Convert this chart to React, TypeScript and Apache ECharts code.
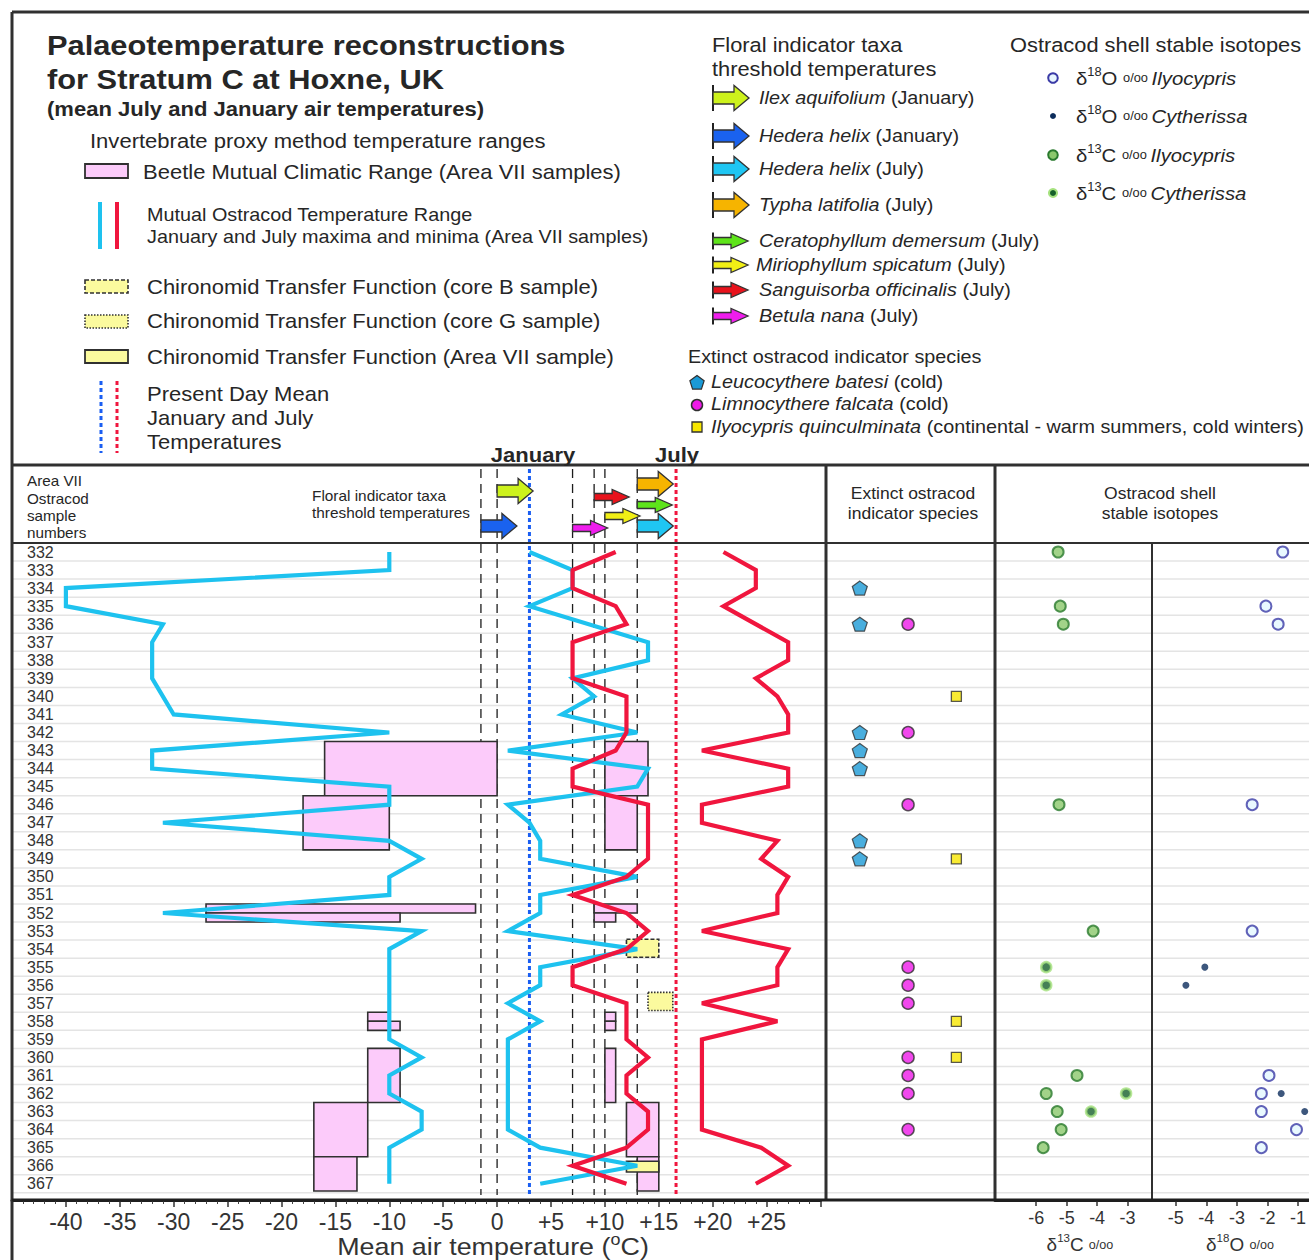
import React, { useEffect, useRef } from 'react';
import * as echarts from 'echarts';

const FONT = "'Liberation Sans', Arial, Helvetica, sans-serif";
const INK = '#262626';
const FRAME = '#303030';
const CYAN = '#1ec2ef';
const RED = '#f0163e';
const PINK = '#fccbfa';
const YELLOW = '#fbfa9e';

// Area VII ostracod sample numbers, top of the section first
const sampleNumbers = [
  332, 333, 334, 335, 336, 337, 338, 339, 340, 341, 342, 343, 344, 345, 346, 347, 348, 349,
  350, 351, 352, 353, 354, 355, 356, 357, 358, 359, 360, 361, 362, 363, 364, 365, 366, 367,
];

// Mutual Ostracod Temperature Range outlines: [sample, °C]
const janMinima = [
  [332, -10], [333, -10], [334, -40], [335, -40], [336, -31], [337, -32], [339, -32], [341, -30],
  [342, -10], [343, -32], [344, -32], [345, -10], [346, -10], [347, -31], [348, -10], [349, -7],
  [350, -10], [351, -10], [352, -31], [353, -7], [354, -10], [359, -10], [360, -7], [361, -10],
  [362, -10], [363, -7], [364, -7], [365, -10], [367, -10],
];
const janMaxima = [
  [332, 3], [333, 7], [334, 7], [335, 3], [337, 14], [338, 14], [339, 7], [340, 9], [341, 6],
  [342, 13], [343, 1], [344, 14], [345, 13], [346, 1], [347, 3], [348, 4], [349, 4], [350, 13],
  [351, 4], [352, 4], [353, 1], [354, 13], [355, 4], [356, 4], [357, 1], [358, 4], [359, 1],
  [364, 1], [365, 4], [366, 13], [367, 4],
];
const julMinima = [
  [332, 11], [333, 7], [334, 7], [335, 11], [336, 12], [337, 7], [339, 7], [340, 12], [342, 12],
  [343, 11], [344, 7], [345, 7], [346, 14], [349, 14], [350, 12], [351, 7], [352, 12], [353, 14],
  [354, 12], [355, 7], [356, 7], [357, 12], [359, 12], [360, 14], [361, 12], [362, 12], [363, 14],
  [364, 14], [365, 12], [366, 7], [367, 12],
];
const julMaxima = [
  [332, 21], [333, 24], [334, 24], [335, 21], [337, 27], [338, 27], [339, 24], [340, 26], [341, 27],
  [342, 27], [343, 19], [344, 27], [345, 27], [346, 19], [347, 19], [348, 26], [349, 24.5], [350, 27],
  [351, 26], [352, 26], [353, 19], [354, 27], [355, 26], [356, 26], [357, 19], [358, 26], [359, 19],
  [364, 19], [365, 24.5], [366, 27], [367, 24],
];

// Beetle MCR boxes: [upper edge, lower edge (sample units), min °C, max °C]
const beetleJanuary = [
  [342.5, 345.5, -16, 0], [345.5, 348.5, -18, -10], [351.5, 352, -27, -2], [352, 352.5, -27, -9],
  [357.5, 358, -12, -10], [358, 358.5, -12, -9], [359.5, 362.5, -12, -9], [362.5, 365.5, -17, -12],
  [365.5, 367.4, -17, -13],
];
const beetleJuly = [
  [342.5, 345.5, 10, 14], [345.5, 348.5, 10, 13], [351.5, 352, 9, 13], [352, 352.5, 9, 11],
  [357.5, 358, 10, 11], [358, 358.5, 10, 11], [359.5, 362.5, 10, 11], [362.5, 365.5, 12, 15],
  [365.5, 367.4, 13, 15],
];

// Chironomid transfer function (July) estimates, same layout
const chironomidCoreB = [[353.45, 354.45, 12, 15]];
const chironomidCoreG = [[356.4, 357.4, 14, 16.3]];
const chironomidAreaVII = [[365.75, 366.35, 12, 15]];

// Present day mean air temperatures, °C
const presentJanuary = 3;
const presentJuly = 16.6;

// Floral indicator taxa and their threshold temperatures, °C
const floralNames = [
  'Ilex aquifolium', 'Hedera helix', 'Hedera helix', 'Typha latifolia',
  'Ceratophyllum demersum', 'Miriophyllum spicatum', 'Sanguisorba officinalis', 'Betula nana',
];
const floralMonths = ['January', 'January', 'July', 'July', 'July', 'July', 'July', 'July'];
const floralThresholds = [0, -1.5, 13, 13, 13, 10, 9, 7];
const floralColors = ['#cdf21c', '#1a62ef', '#1fc6f3', '#f6b400', '#5ee41a', '#f1ef15', '#e8131c', '#ef1ded'];

// arrow placement inside the header band (px below its top) and arrow size
const floralLane = [26, 61, 61, 19, 40, 51, 32, 63];
const floralBig = [true, true, true, true, false, false, false, false];
const floralLegendY = [98, 136, 169, 205, 241, 265, 290, 316];

// Extinct ostracod indicator species: samples where each occurs
const batesiSamples = [334, 336, 342, 343, 344, 348, 349];
const falcataSamples = [336, 342, 346, 355, 356, 357, 360, 361, 362, 364];
const quinculminataSamples = [340, 349, 358, 360];

// Ostracod shell stable isotopes: [sample, ‰]
const d18oIlyocypris = [
  [332, -1.5], [335, -2.05], [336, -1.65], [346, -2.5], [353, -2.5], [361, -1.95],
  [362, -2.2], [363, -2.2], [364, -1.05], [365, -2.2],
];
const d18oCytherissa = [[355, -4.05], [356, -4.67], [362, -1.55], [363, -0.78]];
const d13cIlyocypris = [
  [332, -5.28], [335, -5.21], [336, -5.11], [346, -5.25], [353, -4.13], [361, -4.66],
  [362, -5.67], [363, -5.31], [364, -5.18], [365, -5.77],
];
const d13cCytherissa = [[355, -5.67], [356, -5.67], [362, -3.05], [363, -4.2]];

const d13cTicks = [-6, -5, -4, -3];
const d18oTicks = [-5, -4, -3, -2, -1];

// shared vertical extent of all panels (sample units, header band included)
const Y_MIN = 327.18;
const Y_MAX = 367.9;

const PENTAGON = 'path://M0,-10L9.51,-3.09L5.88,8.09L-5.88,8.09L-9.51,-3.09Z';

function arrowPoints(x: number, y: number, big: boolean) {
  const len = big ? 36 : 35;
  const body = big ? 21 : 18;
  const bh = big ? 6 : 3.5;
  const hh = big ? 12.5 : 7.5;
  return [
    [x, y - bh], [x + body, y - bh], [x + body, y - hh], [x + len, y],
    [x + body, y + hh], [x + body, y + bh], [x, y + bh],
  ];
}

function rs(size: number, extra: any = {}) {
  return { fontFamily: FONT, fontSize: size, fontWeight: 'normal', fontStyle: 'normal', fill: INK, ...extra };
}

// text element; the typeface is set slightly wide, as in the printed figure
function txt(x: number, y: number, text: string, o: any = {}) {
  return {
    type: 'text',
    x,
    y,
    scaleX: o.sx ?? 1.1,
    z: 60,
    silent: true,
    style: {
      text,
      fontFamily: FONT,
      fontSize: o.size ?? 18,
      fontWeight: o.weight ?? 'normal',
      fontStyle: o.italic ? 'italic' : 'normal',
      fill: o.color ?? INK,
      align: o.align ?? 'left',
      verticalAlign: 'middle',
      rich: o.rich,
    },
  };
}

function seg(x1: number, y1: number, x2: number, y2: number, stroke: string, lineWidth: number, lineDash?: number[]) {
  return {
    type: 'line',
    z: 50,
    silent: true,
    shape: { x1, y1, x2, y2 },
    style: { stroke, lineWidth, lineDash },
  };
}

function box(x: number, y: number, w: number, h: number, fill: string, lineDash?: number[], lw = 1.8) {
  return {
    type: 'rect',
    z: 50,
    silent: true,
    shape: { x, y, width: w, height: h },
    style: { fill, stroke: FRAME, lineWidth: lw, lineDash },
  };
}

function pentagonPts(cx: number, cy: number, r: number) {
  const pts: number[][] = [];
  for (let k = 0; k < 5; k++) {
    const a = -Math.PI / 2 + (k * 2 * Math.PI) / 5;
    pts.push([cx + r * Math.cos(a), cy + r * Math.sin(a)]);
  }
  return pts;
}

function rangeBoxes(data: number[][], fill: string, lineDash: number[] | undefined, z: number) {
  return {
    type: 'custom',
    xAxisIndex: 0,
    yAxisIndex: 0,
    silent: true,
    z,
    data,
    encode: { x: [2, 3], y: [0, 1] },
    renderItem: (params: any, api: any) => {
      const p0 = api.coord([api.value(2), api.value(0)]);
      const p1 = api.coord([api.value(3), api.value(1)]);
      return {
        type: 'rect',
        shape: { x: p0[0], y: p0[1], width: p1[0] - p0[0], height: p1[1] - p0[1] },
        style: { fill, stroke: FRAME, lineWidth: 1.6, lineDash },
      };
    },
  };
}

function verticalRule(values: number[], stroke: string, lineWidth: number, lineDash: number[], z: number) {
  return {
    type: 'custom',
    xAxisIndex: 0,
    yAxisIndex: 0,
    silent: true,
    z,
    data: values.map((v) => [v, 340]),
    renderItem: (params: any, api: any) => {
      const x = api.coord([api.value(0), 340])[0];
      const cs = params.coordSys;
      return {
        type: 'line',
        shape: { x1: x, y1: cs.y + 4, x2: x, y2: cs.y + cs.height - 5 },
        style: { stroke, lineWidth, lineDash },
      };
    },
  };
}

function ostracodLine(data: number[][], color: string) {
  return {
    type: 'line',
    xAxisIndex: 0,
    yAxisIndex: 0,
    silent: true,
    z: 6,
    symbol: 'none',
    data: data.map(([s, t]) => [t, s]),
    lineStyle: { color, width: 4.2, join: 'miter' },
  };
}

function buildOption() {
  const isoRich = {
    d: rs(19, { lineHeight: 24 }),
    s: rs(12, { lineHeight: 14, verticalAlign: 'top' }),
    n: rs(19, { lineHeight: 24 }),
    p: rs(12, { lineHeight: 20 }),
    i: rs(19, { lineHeight: 24, fontStyle: 'italic' }),
  };
  const axRich = {
    d: rs(18, { lineHeight: 24, fill: '#333' }),
    s: rs(11, { lineHeight: 13, verticalAlign: 'top', fill: '#333' }),
    n: rs(18, { lineHeight: 24, fill: '#333' }),
    p: rs(12, { lineHeight: 20, fill: '#333' }),
  };
  const legRich = {
    i: rs(18.5, { fontStyle: 'italic' }),
    r: rs(18.5),
  };
  const spRich = { i: rs(18, { fontStyle: 'italic' }), r: rs(18) };

  const graphic: any[] = [
    // frame and panel dividers
    seg(12, 12, 1309, 12, FRAME, 3),
    seg(12, 12, 12, 1260, FRAME, 3),
    seg(12, 465, 1309, 465, FRAME, 3),
    seg(12, 543, 1309, 543, FRAME, 2),
    seg(826, 465, 826, 1200, FRAME, 3),
    seg(995, 465, 995, 1200, FRAME, 3),
    seg(1152, 543, 1152, 1200, FRAME, 2),
    seg(12, 1200, 1309, 1200, '#1e1e1e', 3),

    // title block
    txt(47, 45, 'Palaeotemperature reconstructions', { size: 28, weight: 'bold' }),
    txt(47, 79, 'for Stratum C at Hoxne, UK', { size: 28, weight: 'bold' }),
    txt(47, 109, '(mean July and January air temperatures)', { size: 19.5, weight: 'bold', sx: 1.13 }),
    txt(90, 141, 'Invertebrate proxy method temperature ranges', { size: 19.5, sx: 1.13 }),

    box(85, 164, 43, 14, PINK),
    txt(143, 172, 'Beetle Mutual Climatic Range (Area VII samples)', { size: 20 }),
    seg(100, 202, 100, 249, CYAN, 4),
    seg(117, 202, 117, 249, RED, 4),
    txt(147, 215, 'Mutual Ostracod Temperature Range', { size: 18 }),
    txt(147, 237, 'January and July maxima and minima (Area VII samples)', { size: 18 }),
    box(85, 280, 43, 13, YELLOW, [4, 2], 1.6),
    txt(147, 287, 'Chironomid Transfer Function (core B sample)', { size: 20 }),
    box(85, 315, 43, 13, YELLOW, [1.5, 1.5], 1.6),
    txt(147, 321, 'Chironomid Transfer Function (core G sample)', { size: 20 }),
    box(85, 350, 43, 13, YELLOW),
    txt(147, 357, 'Chironomid Transfer Function (Area VII sample)', { size: 20 }),
    seg(101, 381, 101, 453, '#1a5ef2', 3, [4, 3]),
    seg(117, 381, 117, 453, RED, 3, [4, 3]),
    txt(147, 394, 'Present Day Mean', { size: 20 }),
    txt(147, 418, 'January and July', { size: 20 }),
    txt(147, 442, 'Temperatures', { size: 20 }),

    // floral legend
    txt(712, 45, 'Floral indicator taxa', { size: 19.5, sx: 1.12 }),
    txt(712, 69, 'threshold temperatures', { size: 19.5, sx: 1.12 }),

    // isotope legend
    txt(1010, 45, 'Ostracod shell stable isotopes', { size: 19.5, sx: 1.12 }),
    { type: 'circle', z: 55, silent: true, shape: { cx: 1053, cy: 78, r: 4.8 }, style: { fill: '#e8f6ff', stroke: '#3b3ba6', lineWidth: 2 } },
    { type: 'circle', z: 55, silent: true, shape: { cx: 1053, cy: 116, r: 3 }, style: { fill: '#0c2d5c' } },
    { type: 'circle', z: 55, silent: true, shape: { cx: 1053, cy: 155, r: 4.8 }, style: { fill: '#8bc86c', stroke: '#2a7a2e', lineWidth: 2 } },
    { type: 'circle', z: 55, silent: true, shape: { cx: 1053, cy: 193, r: 5 }, style: { fill: '#a6e27f' } },
    { type: 'circle', z: 56, silent: true, shape: { cx: 1053, cy: 193, r: 3 }, style: { fill: '#16602a' } },
    txt(1076, 78, '{d|δ}{s|18}{n|O }{p|o/oo }{i|Ilyocypris}', { rich: isoRich, sx: 1.07 }),
    txt(1076, 116, '{d|δ}{s|18}{n|O }{p|o/oo }{i|Cytherissa}', { rich: isoRich, sx: 1.07 }),
    txt(1076, 155, '{d|δ}{s|13}{n|C }{p|o/oo }{i|Ilyocypris}', { rich: isoRich, sx: 1.07 }),
    txt(1076, 193, '{d|δ}{s|13}{n|C }{p|o/oo }{i|Cytherissa}', { rich: isoRich, sx: 1.07 }),

    // extinct species legend
    txt(688, 357, 'Extinct ostracod indicator species', { size: 18.5, sx: 1.07 }),
    { type: 'polygon', z: 55, silent: true, shape: { points: pentagonPts(697, 383, 7.5) }, style: { fill: '#1b9ad6', stroke: FRAME, lineWidth: 1.2 } },
    { type: 'circle', z: 55, silent: true, shape: { cx: 697, cy: 405, r: 5.5 }, style: { fill: '#ee1ae8', stroke: FRAME, lineWidth: 1.5 } },
    { type: 'rect', z: 55, silent: true, shape: { x: 692, y: 422, width: 10, height: 10 }, style: { fill: '#f7e600', stroke: FRAME, lineWidth: 1.3 } },
    txt(711, 382, '{i|Leucocythere batesi} {r|(cold)}', { rich: spRich }),
    txt(711, 404, '{i|Limnocythere falcata} {r|(cold)}', { rich: spRich }),
    txt(711, 427, '{i|Ilyocypris quinculminata} {r|(continental - warm summers, cold winters)}', { rich: spRich }),

    // month headings over the present-day lines
    txt(533, 455, 'January', { size: 20, weight: 'bold', align: 'center' }),
    txt(677, 455, 'July', { size: 20, weight: 'bold', align: 'center' }),

    // header band labels
    txt(27, 481, 'Area VII', { size: 14, sx: 1.09 }),
    txt(27, 499, 'Ostracod', { size: 14, sx: 1.09 }),
    txt(27, 516, 'sample', { size: 14, sx: 1.09 }),
    txt(27, 533, 'numbers', { size: 14, sx: 1.09 }),
    txt(312, 496, 'Floral indicator taxa', { size: 14.5, sx: 1.06 }),
    txt(312, 513, 'threshold temperatures', { size: 14.5, sx: 1.06 }),
    txt(913, 494, 'Extinct ostracod', { size: 16.5, align: 'center', sx: 1.06 }),
    txt(913, 514, 'indicator species', { size: 16.5, align: 'center', sx: 1.06 }),
    txt(1160, 494, 'Ostracod shell', { size: 16.5, align: 'center', sx: 1.06 }),
    txt(1160, 514, 'stable isotopes', { size: 16.5, align: 'center', sx: 1.06 }),

    // axis titles
    txt(493, 1247, '{n|Mean air temperature (}{s|o}{n|C)}', {
      align: 'center',
      sx: 1.12,
      rich: {
        n: rs(24, { lineHeight: 30, fill: '#333' }),
        s: rs(16, { lineHeight: 20, verticalAlign: 'top', fill: '#333' }),
      },
    }),
    txt(1080, 1245, '{d|δ}{s|13}{n|C }{p|o/oo}', { align: 'center', rich: axRich, sx: 1.05 }),
    txt(1240, 1245, '{d|δ}{s|18}{n|O }{p|o/oo}', { align: 'center', rich: axRich, sx: 1.05 }),
  ];

  // floral legend arrows with their text
  floralNames.forEach((name, i) => {
    const y = floralLegendY[i];
    const big = floralBig[i];
    const barH = big ? 13 : 8.5;
    graphic.push(seg(713, y - barH, 713, y + barH, '#222', 2));
    graphic.push({
      type: 'polygon',
      z: 55,
      silent: true,
      shape: { points: arrowPoints(713, y, big) },
      style: { fill: floralColors[i], stroke: '#333', lineWidth: 1.3 },
    });
    graphic.push(txt(i === 5 ? 756 : 759, y, `{i|${name}} {r|(${floralMonths[i]})}`, { rich: legRich, sx: 1.07 }));
  });

  const thresholdLines = Array.from(new Set(floralThresholds));

  const series: any[] = [
    // light row separators through all panels
    {
      type: 'custom',
      xAxisIndex: 0,
      yAxisIndex: 0,
      silent: true,
      z: 1,
      data: sampleNumbers.map((s) => [0, s + 0.5]),
      renderItem: (params: any, api: any) => {
        const y = api.coord([0, api.value(1)])[1];
        return {
          type: 'line',
          shape: { x1: params.coordSys.x + 1, y1: y, x2: api.getWidth(), y2: y },
          style: { stroke: '#e4e4e4', lineWidth: 1.5 },
        };
      },
    },
    verticalRule(thresholdLines, '#1c1c1c', 1.3, [9, 6], 2),
    verticalRule([presentJanuary], '#1a5ef2', 3, [4, 3], 2),
    verticalRule([presentJuly], RED, 3, [4, 3], 2),
    rangeBoxes(beetleJanuary, PINK, undefined, 3),
    rangeBoxes(beetleJuly, PINK, undefined, 3),
    rangeBoxes(chironomidCoreB, YELLOW, [4, 2], 4),
    rangeBoxes(chironomidCoreG, YELLOW, [1.5, 1.5], 4),
    rangeBoxes(chironomidAreaVII, YELLOW, undefined, 4),
    ostracodLine(janMinima, CYAN),
    ostracodLine(janMaxima, CYAN),
    ostracodLine(julMinima, RED),
    ostracodLine(julMaxima, RED),
    // floral threshold arrows in the header band
    {
      type: 'custom',
      xAxisIndex: 0,
      yAxisIndex: 0,
      silent: true,
      z: 8,
      data: floralThresholds.map((t) => [t, 330]),
      renderItem: (params: any, api: any) => {
        const i = params.dataIndex;
        const x = api.coord([api.value(0), 330])[0];
        const y = params.coordSys.y + floralLane[i];
        return {
          type: 'polygon',
          shape: { points: arrowPoints(x, y, floralBig[i]) },
          style: { fill: floralColors[i], stroke: '#333', lineWidth: 1.3 },
        };
      },
    },
    // extinct species
    {
      type: 'scatter',
      xAxisIndex: 1,
      yAxisIndex: 1,
      silent: true,
      z: 6,
      symbol: PENTAGON,
      symbolSize: [15, 14],
      data: batesiSamples.map((s) => [0, s]),
      itemStyle: { color: '#1b9ad6', borderColor: FRAME, borderWidth: 1.2 },
    },
    {
      type: 'scatter',
      xAxisIndex: 1,
      yAxisIndex: 1,
      silent: true,
      z: 6,
      symbol: 'circle',
      symbolSize: 12,
      data: falcataSamples.map((s) => [1, s]),
      itemStyle: { color: '#ee1ae8', borderColor: FRAME, borderWidth: 1.5 },
    },
    {
      type: 'scatter',
      xAxisIndex: 1,
      yAxisIndex: 1,
      silent: true,
      z: 6,
      symbol: 'rect',
      symbolSize: 10,
      data: quinculminataSamples.map((s) => [2, s]),
      itemStyle: { color: '#f7e600', borderColor: FRAME, borderWidth: 1.3 },
    },
    // stable isotopes
    {
      type: 'scatter',
      xAxisIndex: 2,
      yAxisIndex: 2,
      silent: true,
      z: 6,
      symbolSize: 11,
      data: d13cIlyocypris.map(([s, v]) => [v, s]),
      itemStyle: { color: '#8bc86c', borderColor: '#2a7a2e', borderWidth: 2 },
    },
    {
      type: 'scatter',
      xAxisIndex: 2,
      yAxisIndex: 2,
      silent: true,
      z: 6,
      symbolSize: 10,
      data: d13cCytherissa.map(([s, v]) => [v, s]),
      itemStyle: { color: '#16602a', borderColor: '#a6e27f', borderWidth: 2.5 },
    },
    {
      type: 'scatter',
      xAxisIndex: 3,
      yAxisIndex: 3,
      silent: true,
      z: 6,
      symbolSize: 11,
      data: d18oIlyocypris.map(([s, v]) => [v, s]),
      itemStyle: { color: '#e3f7ff', borderColor: '#3b3ba6', borderWidth: 2 },
    },
    {
      type: 'scatter',
      xAxisIndex: 3,
      yAxisIndex: 3,
      silent: true,
      z: 6,
      symbolSize: 7,
      data: d18oCytherissa.map(([s, v]) => [v, s]),
      itemStyle: { color: '#0c2d5c' },
    },
  ];

  const hiddenY = (gridIndex: number) => ({
    type: 'value',
    gridIndex,
    inverse: true,
    min: Y_MIN,
    max: Y_MAX,
    show: false,
  });

  return {
    animation: false,
    backgroundColor: '#ffffff',
    textStyle: { fontFamily: FONT },
    grid: [
      { left: 12, top: 465, width: 808.5, height: 735 },
      { left: 826, top: 465, width: 169, height: 735 },
      { left: 995, top: 465, width: 157, height: 735 },
      { left: 1152, top: 465, width: 157, height: 735 },
    ],
    xAxis: [
      {
        type: 'value',
        gridIndex: 0,
        min: -45,
        max: 30,
        interval: 5,
        axisLine: { show: true, lineStyle: { color: '#1e1e1e', width: 3 } },
        axisTick: { show: true, length: 7, lineStyle: { color: '#333', width: 1.5 } },
        minorTick: { show: true, splitNumber: 5, length: 4, lineStyle: { color: '#444', width: 1 } },
        axisLabel: {
          margin: 10,
          fontSize: 23,
          color: '#333',
          fontFamily: FONT,
          formatter: (v: number) => (v < -40 || v > 25 ? '' : v > 0 ? '+' + v : String(v)),
        },
        splitLine: { show: false },
      },
      { type: 'value', gridIndex: 1, min: -0.7, max: 2.8, show: false },
      {
        type: 'value',
        gridIndex: 2,
        min: -7.35,
        max: -2.2,
        axisLine: { show: true, lineStyle: { color: '#1e1e1e', width: 3 } },
        axisTick: { show: true, customValues: d13cTicks, length: 6, lineStyle: { color: '#333', width: 1.5 } },
        axisLabel: { customValues: d13cTicks, margin: 9, fontSize: 18, color: '#333', fontFamily: FONT },
        splitLine: { show: false },
      },
      {
        type: 'value',
        gridIndex: 3,
        min: -5.78,
        max: -0.67,
        axisLine: { show: true, lineStyle: { color: '#1e1e1e', width: 3 } },
        axisTick: { show: true, customValues: d18oTicks, length: 6, lineStyle: { color: '#333', width: 1.5 } },
        axisLabel: { customValues: d18oTicks, margin: 9, fontSize: 18, color: '#333', fontFamily: FONT },
        splitLine: { show: false },
      },
    ],
    yAxis: [
      {
        type: 'value',
        gridIndex: 0,
        inverse: true,
        min: Y_MIN,
        max: Y_MAX,
        axisLine: { show: false },
        axisTick: { show: false },
        splitLine: { show: false },
        axisLabel: {
          inside: true,
          margin: 15,
          customValues: sampleNumbers,
          fontSize: 16,
          color: '#333',
          fontFamily: FONT,
          formatter: (v: number) => String(v),
        },
      },
      hiddenY(1),
      hiddenY(2),
      hiddenY(3),
    ],
    series,
    graphic: { elements: graphic },
  };
}

export default function App() {
  const ref = useRef<HTMLDivElement>(null);
  useEffect(() => {
    if (!ref.current) return;
    const chart = echarts.init(ref.current, null, { renderer: 'svg' });
    chart.setOption(buildOption());
    return () => chart.dispose();
  }, []);
  return (
    <div
      ref={ref}
      style={{ position: 'absolute', left: 0, top: 0, width: 1309, height: 1260, background: '#fff' }}
    />
  );
}
